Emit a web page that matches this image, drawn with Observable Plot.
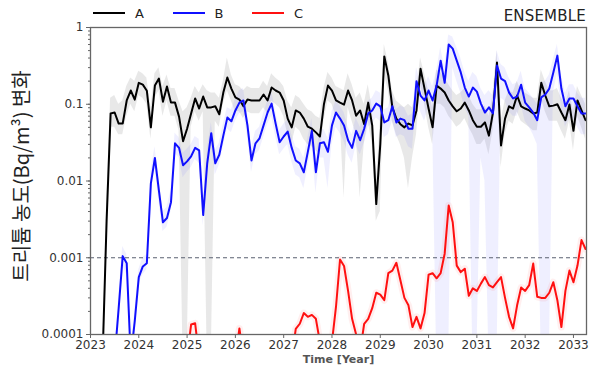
<!DOCTYPE html>
<html><head><meta charset="utf-8">
<script src="https://cdn.jsdelivr.net/npm/d3@7"></script>
<script src="https://cdn.jsdelivr.net/npm/@observablehq/plot@0.6"></script>
<style>
body{margin:0;background:#fff;}
#wrap{position:relative;width:591px;height:369px;font-family:"DejaVu Sans",sans-serif;overflow:hidden;}
.item{position:absolute;top:4px;height:18px;display:flex;align-items:center;font-size:13px;color:#222;}
.item .sw{width:32px;height:2px;margin-right:10px;}
#ens{position:absolute;right:5px;top:7px;font-size:15px;color:#222;letter-spacing:0.2px;}
</style></head>
<body><div id="wrap"></div>
<script>
// monthly time axis starting Jan 2023 (124 months)
const startYear = 2023;
const nMonths = 124;
const seriesNames = ["A", "B", "C"];
const seriesColors = ["#000000", "#1010ff", "#ff1010"];
const xTicks = [2023, 2024, 2025, 2026, 2027, 2028, 2029, 2030, 2031, 2032, 2033];
const yTicks = [0.0001, 0.001, 0.01, 0.1, 1];
const refLevel = 0.001;

// series A (rows = years)
const A = [
  5e-5, 5e-5, 5e-5, 5e-5, 0.003, 0.076, 0.078, 0.056, 0.056, 0.112, 0.151, 0.115,
  0.19, 0.18, 0.15, 0.05, 0.175, 0.216, 0.108, 0.17, 0.105, 0.105, 0.069, 0.033,
  0.048, 0.076, 0.119, 0.088, 0.126, 0.091, 0.091, 0.094, 0.074, 0.142, 0.223, 0.16,
  0.123, 0.115, 0.094, 0.115, 0.112, 0.112, 0.112, 0.134, 0.112, 0.165, 0.151, 0.142,
  0.112, 0.065, 0.05, 0.083, 0.078, 0.065, 0.051, 0.048, 0.043, 0.038, 0.1, 0.175,
  0.151, 0.112, 0.105, 0.099, 0.151, 0.112, 0.071, 0.083, 0.055, 0.105, 0.053, 0.005,
  0.03, 0.42, 0.237, 0.091, 0.065, 0.055, 0.05, 0.056, 0.053, 0.083, 0.29, 0.16,
  0.088, 0.05, 0.175, 0.16, 0.142, 0.112, 0.094, 0.081, 0.088, 0.105, 0.083, 0.062,
  0.051, 0.051, 0.058, 0.039, 0.078, 0.35, 0.029, 0.065, 0.094, 0.088, 0.13, 0.094,
  0.088, 0.083, 0.076, 0.078, 0.19, 0.13, 0.094, 0.096, 0.1, 0.078, 0.062, 0.099,
  0.045, 0.112, 0.083, 0.062
];
const A_hi = [
  5e-5, 5e-5, 5e-5, 5e-5, 0.005, 0.12, 0.13, 0.1, 0.11, 0.17, 0.22, 0.2,
  0.27, 0.25, 0.22, 0.09, 0.25, 0.3, 0.17, 0.24, 0.16, 0.16, 0.11, 0.08,
  0.09, 0.12, 0.17, 0.14, 0.18, 0.15, 0.14, 0.14, 0.12, 0.2, 0.4, 0.24,
  0.18, 0.17, 0.15, 0.17, 0.16, 0.16, 0.16, 0.2, 0.17, 0.25, 0.22, 0.2,
  0.17, 0.11, 0.09, 0.13, 0.12, 0.1, 0.085, 0.08, 0.07, 0.065, 0.16, 0.26,
  0.22, 0.17, 0.16, 0.15, 0.25, 0.18, 0.12, 0.14, 0.1, 0.18, 0.09, 0.009,
  0.06, 0.6, 0.35, 0.15, 0.11, 0.1, 0.09, 0.1, 0.09, 0.14, 0.4, 0.25,
  0.15, 0.09, 0.28, 0.26, 0.22, 0.18, 0.15, 0.13, 0.14, 0.16, 0.13, 0.1,
  0.085, 0.085, 0.095, 0.07, 0.13, 0.5, 0.06, 0.11, 0.15, 0.14, 0.2, 0.15,
  0.14, 0.13, 0.12, 0.12, 0.28, 0.2, 0.15, 0.15, 0.16, 0.12, 0.1, 0.15,
  0.08, 0.17, 0.13, 0.1
];
const A_lo = [
  5e-5, 5e-5, 5e-5, 5e-5, 0.002, 0.05, 0.05, 0.04, 0.04, 0.07, 0.1, 0.08,
  0.13, 0.12, 0.1, 0.035, 0.12, 0.15, 0.07, 0.11, 0.07, 0.07, 0.045, 5e-5,
  5e-5, 0.05, 0.08, 0.06, 0.08, 5e-5, 5e-5, 0.06, 0.05, 0.1, 0.15, 0.11,
  0.08, 0.08, 0.065, 0.08, 0.075, 0.075, 0.075, 0.09, 0.075, 0.11, 0.1, 0.09,
  0.07, 0.04, 0.03, 0.05, 0.045, 0.035, 0.03, 0.028, 0.025, 0.022, 0.06, 0.11,
  0.1, 0.07, 0.07, 0.006, 0.09, 0.06, 0.04, 0.006, 0.03, 0.06, 0.03, 0.003,
  0.004, 0.25, 0.15, 0.06, 0.04, 0.03, 0.02, 0.008, 0.02, 0.04, 0.18, 0.1,
  0.05, 0.03, 0.1, 0.1, 0.09, 0.07, 0.06, 0.05, 0.055, 0.065, 0.05, 0.04,
  0.03, 0.03, 0.035, 0.022, 0.045, 0.2, 0.015, 0.04, 0.06, 0.055, 0.08, 0.06,
  0.055, 0.05, 0.045, 0.045, 0.12, 0.08, 0.06, 0.06, 0.06, 0.045, 0.035, 0.06,
  0.025, 0.07, 0.05, 0.035
];

// series B
const B = [
  5e-5, 5e-5, 5e-5, 5e-5, 5e-5, 5e-5, 5e-5, 0.00022, 0.00105, 0.00085, 5e-5, 0.00015,
  0.00056, 0.00077, 0.00085, 0.0093, 0.02, 0.0075, 0.0029, 0.0033, 0.0053, 0.031, 0.027, 0.016,
  0.018, 0.021, 0.027, 0.025, 0.0036, 0.017, 0.042, 0.017, 0.022, 0.039, 0.067, 0.06,
  0.083, 0.105, 0.112, 0.053, 0.0185, 0.031, 0.036, 0.053, 0.078, 0.102, 0.056, 0.032,
  0.038, 0.044, 0.027, 0.0185, 0.017, 0.013, 0.024, 0.045, 0.013, 0.031, 0.032, 0.024,
  0.053, 0.078, 0.065, 0.053, 0.034, 0.027, 0.045, 0.034, 0.048, 0.076, 0.083, 0.102,
  0.094, 0.058, 0.062, 0.094, 0.058, 0.065, 0.062, 0.048, 0.048, 0.2, 0.13, 0.112,
  0.151, 0.112, 0.175, 0.37, 0.19, 0.6, 0.53, 0.37, 0.26, 0.165, 0.126, 0.165,
  0.146, 0.102, 0.078, 0.091, 0.076, 0.32, 0.216, 0.2, 0.142, 0.119, 0.126, 0.18,
  0.105, 0.091, 0.078, 0.062, 0.123, 0.134, 0.16, 0.26, 0.43, 0.16, 0.094, 0.119,
  0.119, 0.094, 0.076, 0.076
];
const B_hi = [
  5e-5, 5e-5, 5e-5, 5e-5, 5e-5, 5e-5, 5e-5, 0.0003, 0.0014, 0.0011, 5e-5, 0.0002,
  0.0007, 0.001, 0.0011, 0.013, 0.028, 0.011, 0.004, 0.0045, 0.0075, 0.042, 0.037, 0.023,
  0.026, 0.03, 0.038, 0.035, 0.005, 0.025, 0.058, 0.025, 0.031, 0.055, 0.09, 0.085,
  0.115, 0.15, 0.16, 0.075, 0.027, 0.044, 0.05, 0.075, 0.11, 0.15, 0.08, 0.046,
  0.055, 0.063, 0.04, 0.028, 0.026, 0.02, 0.036, 0.065, 0.02, 0.046, 0.047, 0.036,
  0.08, 0.11, 0.095, 0.078, 0.05, 0.04, 0.066, 0.05, 0.07, 0.11, 0.12, 0.15,
  0.14, 0.085, 0.09, 0.14, 0.085, 0.095, 0.09, 0.07, 0.075, 0.3, 0.2, 0.17,
  0.23, 0.17, 0.27, 0.55, 0.3, 0.8, 0.75, 0.55, 0.4, 0.26, 0.2, 0.26,
  0.23, 0.16, 0.13, 0.15, 0.13, 0.5, 0.33, 0.3, 0.22, 0.18, 0.19, 0.27,
  0.16, 0.14, 0.12, 0.1, 0.19, 0.2, 0.24, 0.38, 0.6, 0.24, 0.14, 0.18,
  0.18, 0.14, 0.12, 0.12
];
const B_lo = [
  5e-5, 5e-5, 5e-5, 5e-5, 5e-5, 5e-5, 5e-5, 0.00015, 0.0008, 0.0006, 5e-5, 0.0001,
  0.00045, 0.0006, 0.0007, 0.007, 0.015, 0.0055, 0.0022, 0.0025, 0.004, 0.023, 0.02, 0.011,
  0.013, 0.015, 0.019, 0.017, 0.0026, 0.012, 0.03, 0.012, 0.016, 0.028, 0.048, 0.043,
  0.06, 0.075, 0.08, 0.038, 0.013, 0.022, 0.025, 0.037, 0.055, 0.07, 0.038, 0.022,
  0.026, 0.03, 0.018, 0.012, 0.011, 0.008, 0.015, 0.03, 0.007, 0.02, 0.02, 0.008,
  0.03, 0.05, 0.042, 0.033, 0.022, 0.017, 0.029, 0.022, 0.031, 0.05, 0.055, 0.066,
  0.06, 0.037, 0.04, 0.06, 0.037, 0.04, 0.038, 0.028, 0.026, 0.12, 0.08, 0.06,
  0.09, 0.06, 5e-5, 5e-5, 5e-5, 5e-5, 0.3, 0.2, 0.14, 0.09, 0.07, 5e-5,
  5e-5, 0.02, 0.01, 5e-5, 5e-5, 5e-5, 0.12, 0.11, 0.08, 0.07, 0.07, 0.1,
  0.06, 0.05, 0.04, 0.03, 5e-5, 5e-5, 5e-5, 0.14, 0.25, 0.09, 0.05, 0.065,
  0.065, 0.05, 0.04, 0.04
];

// series C
const C = [
  5e-5, 5e-5, 5e-5, 5e-5, 5e-5, 5e-5, 5e-5, 5e-5, 5e-5, 5e-5, 5e-5, 5e-5,
  5e-5, 5e-5, 5e-5, 5e-5, 5e-5, 5e-5, 5e-5, 5e-5, 5e-5, 5e-5, 5e-5, 5e-5,
  5e-5, 0.000135, 0.00014, 5e-5, 5e-5, 5e-5, 5e-5, 5e-5, 5e-5, 5e-5, 5e-5, 5e-5,
  5e-5, 0.00012, 5e-5, 5e-5, 5e-5, 5e-5, 5e-5, 5e-5, 5e-5, 5e-5, 5e-5, 5e-5,
  5e-5, 5e-5, 5e-5, 0.000118, 0.000138, 0.00019, 0.00017, 0.00018, 0.00016, 0.00008, 5e-5, 5e-5,
  0.00008, 0.00023, 0.00095, 0.00078, 0.00037, 0.00016, 0.0001, 0.00006, 0.000138, 0.00016, 0.00022, 0.00035,
  0.00033, 0.00028, 0.00063, 0.00068, 0.00086, 0.00051, 0.0003, 0.00024, 0.000125, 0.00017, 0.00012, 0.00019,
  0.0006, 0.00063, 0.00054, 0.00063, 0.00113, 0.0048, 0.0029, 0.00079, 0.00065, 0.00072, 0.00032, 0.0004,
  0.00037, 0.00046, 0.00056, 0.00044, 0.00041, 0.00048, 0.00056, 0.0003, 0.00017, 0.00012, 0.00024, 0.00041,
  0.00037, 0.00044, 0.00084, 0.00031, 0.0003, 0.0003, 0.00035, 0.00048, 0.00028, 0.000125, 0.00037, 0.00068,
  0.00048, 0.00079, 0.0017, 0.0013
];

const rows = d3.range(nMonths).map(i => ({
  t: startYear + i / 12,
  A: A[i], Alo: A_lo[i], Ahi: A_hi[i],
  B: B[i], Blo: B_lo[i], Bhi: B_hi[i],
  C: C[i]
}));

const minorTicks = d3.scaleLog().domain([1e-4, 1]).ticks();

const chart = Plot.plot({
  width: 591,
  height: 369,
  marginLeft: 90,
  marginRight: 5,
  marginTop: 27,
  marginBottom: 35,
  style: {fontFamily: "DejaVu Sans, sans-serif", background: "transparent"},
  x: {domain: [2023, 2033.27]},
  y: {type: "log", domain: [1e-4, 1]},
  marks: [
    Plot.areaY(rows, {x: "t", y1: "Alo", y2: "Ahi", fill: "#8a8a8a", fillOpacity: 0.2, clip: true}),
    Plot.areaY(rows, {x: "t", y1: "Blo", y2: "Bhi", fill: "#7a7aff", fillOpacity: 0.12, clip: true}),
    Plot.lineY(rows, {x: "t", y: "C", stroke: "#ff6060", strokeWidth: 7, strokeOpacity: 0.1, clip: true}),
    Plot.ruleY([refLevel], {stroke: "#5a6070", strokeWidth: 1, strokeDasharray: "4,3"}),
    Plot.lineY(rows, {x: "t", y: "A", stroke: seriesColors[0], strokeWidth: 2, clip: true}),
    Plot.lineY(rows, {x: "t", y: "B", stroke: seriesColors[1], strokeWidth: 2, clip: true}),
    Plot.lineY(rows, {x: "t", y: "C", stroke: seriesColors[2], strokeWidth: 2, clip: true}),
    Plot.frame({stroke: "#666", strokeWidth: 1.3}),
    Plot.axisY({ticks: minorTicks, tickSize: 2, tickFormat: () => "", stroke: "#666", label: null}),
    Plot.axisY({ticks: yTicks, tickSize: 4, tickFormat: d => String(d), fontSize: 12, fill: "#333", stroke: "#666", label: null, tickPadding: 3}),
    Plot.axisX({ticks: xTicks, tickSize: 4, tickFormat: d => String(d), fontSize: 12, fill: "#333", stroke: "#666", label: null, tickPadding: 2}),
    Plot.text(["트리튬 농도(Bq/m³) 변화"], {frameAnchor: "left", textAnchor: "middle", rotate: -90, dx: -68, dy: -5, fontSize: 20, fill: "#222", fontFamily: "Noto Sans CJK KR"}),
    Plot.text(["Time [Year]"], {frameAnchor: "bottom", dy: 28, fontSize: 11, fontWeight: 600, fill: "#555"})
  ]
});

const wrap = document.getElementById("wrap");
wrap.appendChild(chart);

seriesNames.forEach((name, k) => {
  const it = document.createElement("div");
  it.className = "item";
  it.style.left = (93 + k * 79.5) + "px";
  it.innerHTML = `<span class="sw" style="background:${seriesColors[k]}"></span><span>${name}</span>`;
  wrap.appendChild(it);
});
const ens = document.createElement("div");
ens.id = "ens";
ens.textContent = "ENSEMBLE";
wrap.appendChild(ens);
</script>
</body></html>
